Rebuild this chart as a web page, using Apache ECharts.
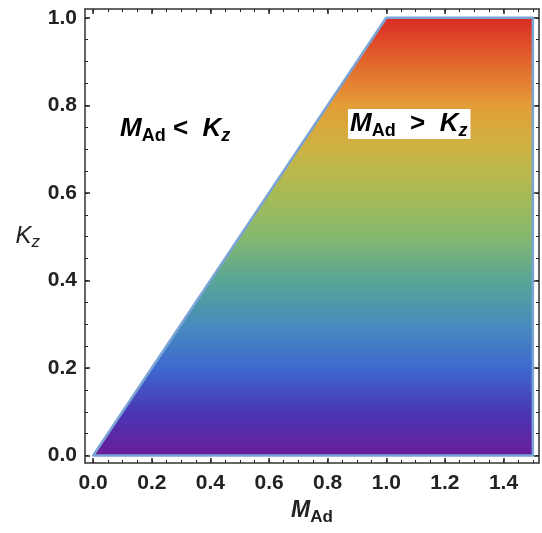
<!DOCTYPE html>
<html>
<head>
<meta charset="utf-8">
<script src="https://cdn.jsdelivr.net/npm/echarts@6/dist/echarts.min.js"></script>
<style>
  html, body { margin: 0; padding: 0; background: #fff; }
  #chart { width: 542px; height: 533px; }
</style>
</head>
<body>
<div id="chart"></div>
<script>
'use strict';

// region M_Ad > K_z (vertices, clockwise from origin)
var regionX = [0, 1.0, 1.5, 1.5];
var regionY = [0, 1.0, 1.0, 0];

// tick labels
var xTicks = [0, 0.2, 0.4, 0.6, 0.8, 1.0, 1.2, 1.4];
var yTicks = [0, 0.2, 0.4, 0.6, 0.8, 1.0];
var minorStep = 0.05;

// colour ramp, top (K_z = 1) to bottom (K_z = 0)
var rampColors = ['#da2a24', '#e2632c', '#e49d38', '#cdb342', '#a9bb55', '#85b86e',
    '#58a596', '#478cbc', '#3e68d0', '#4a36b4', '#6a1c98'];

var FONT = '"Liberation Sans", Arial, sans-serif';

function minorTicks(from, to) {
    var out = [];
    for (var v = from; v <= to + 1e-9; v += minorStep) {
        out.push(Math.round(v * 100) / 100);
    }
    return out;
}
var xMinor = minorTicks(0, 1.5);
var yMinor = minorTicks(0, 1.0);

var chart = echarts.init(document.getElementById('chart'));

var xMin = -0.028, xMax = 1.521;
var yMin = -0.017, yMax = 1.02;

function xAxisOf(pos, major, withLabel) {
    return {
        type: 'value',
        position: pos,
        min: xMin,
        max: xMax,
        name: withLabel ? '{m|M}{s|Ad}' : '',
        nameLocation: 'middle',
        nameGap: 29,
        nameTextStyle: {
            rich: {
                m: { fontFamily: FONT, fontSize: 23, fontWeight: 'bold', fontStyle: 'italic', color: '#222', lineHeight: 30, verticalAlign: 'middle' },
                s: { fontFamily: FONT, fontSize: 17, fontWeight: 'bold', color: '#222', lineHeight: 30, verticalAlign: 'bottom' }
            }
        },
        axisLine: { show: major, onZero: false, lineStyle: { color: '#333', width: 1.5 } },
        axisTick: {
            show: true, inside: true, length: major ? 5 : 3,
            customValues: major ? xTicks : xMinor,
            lineStyle: { color: '#222', width: major ? 1.5 : 1 }
        },
        axisLabel: {
            show: withLabel,
            customValues: xTicks,
            formatter: function (v) { return v.toFixed(1); },
            fontFamily: FONT, fontSize: 21, fontWeight: 'bold', color: '#222', margin: 10
        },
        splitLine: { show: false }
    };
}

function yAxisOf(pos, major, withLabel) {
    return {
        type: 'value',
        position: pos,
        min: yMin,
        max: yMax,
        name: withLabel ? '{k|K}{z|z}' : '',
        nameLocation: 'middle',
        nameRotate: 0,
        nameGap: 45,
        nameTextStyle: {
            rich: {
                k: { fontFamily: FONT, fontSize: 24, fontStyle: 'italic', color: '#222', lineHeight: 30, verticalAlign: 'middle' },
                z: { fontFamily: FONT, fontSize: 17, fontStyle: 'italic', color: '#222', lineHeight: 30, verticalAlign: 'bottom' }
            }
        },
        axisLine: { show: major, onZero: false, lineStyle: { color: '#333', width: 1.5 } },
        axisTick: {
            show: true, inside: true, length: major ? 5 : 3,
            customValues: major ? yTicks : yMinor,
            lineStyle: { color: '#222', width: major ? 1.5 : 1 }
        },
        axisLabel: {
            show: withLabel,
            customValues: yTicks,
            formatter: function (v) { return v.toFixed(1); },
            fontFamily: FONT, fontSize: 21, fontWeight: 'bold', color: '#222', margin: 8
        },
        splitLine: { show: false }
    };
}

var stops = rampColors.map(function (c, i) {
    return { offset: i / (rampColors.length - 1), color: c };
});

var regionData = regionX.map(function (x, i) { return [x, regionY[i]]; });

var subRich = {
    m: { fontFamily: FONT, fontSize: 26, fontWeight: 'bold', fontStyle: 'italic', color: '#111', lineHeight: 32, verticalAlign: 'middle' },
    s: { fontFamily: FONT, fontSize: 18, fontWeight: 'bold', color: '#111', lineHeight: 32, verticalAlign: 'bottom' },
    o: { fontFamily: FONT, fontSize: 26, fontWeight: 'bold', color: '#111', lineHeight: 32, verticalAlign: 'middle' },
    z: { fontFamily: FONT, fontSize: 18, fontWeight: 'bold', fontStyle: 'italic', color: '#111', lineHeight: 32, verticalAlign: 'bottom' }
};

var option = {
    animation: false,
    backgroundColor: '#fff',
    grid: { left: 85, right: 3, top: 9, bottom: 70, containLabel: false, outerBoundsMode: 'none' },
    xAxis: [
        xAxisOf('bottom', true, true),
        xAxisOf('bottom', false, false),
        xAxisOf('top', true, false),
        xAxisOf('top', false, false)
    ],
    yAxis: [
        yAxisOf('left', true, true),
        yAxisOf('left', false, false),
        yAxisOf('right', true, false),
        yAxisOf('right', false, false)
    ],
    graphic: [{
        type: 'text',
        left: 120,
        top: 116,
        style: {
            text: '{m|M}{s|Ad}{o| <  }{m|K}{z|z}',
            rich: subRich
        },
        z: 100
    }, {
        type: 'text',
        left: 348,
        top: 109,
        style: {
            text: '{m|M}{s|Ad}{o|  >  }{m|K}{z|z}',
            rich: subRich,
            backgroundColor: '#fff',
            padding: [-1, 3, -1, 2]
        },
        z: 100
    }],
    series: [{
        type: 'custom',
        xAxisIndex: 0,
        yAxisIndex: 0,
        data: regionData,
        renderItem: function (params, api) {
            if (params.dataIndex !== 0) {
                return null;
            }
            var pts = regionData.map(function (d) { return api.coord(d); });
            return {
                type: 'polygon',
                shape: { points: pts },
                style: {
                    fill: new echarts.graphic.LinearGradient(0, 0, 0, 1, stops),
                    stroke: '#7aa3d6',
                    lineWidth: 2.5,
                    lineJoin: 'round'
                }
            };
        }
    }]
};

chart.setOption(option);
</script>
</body>
</html>
